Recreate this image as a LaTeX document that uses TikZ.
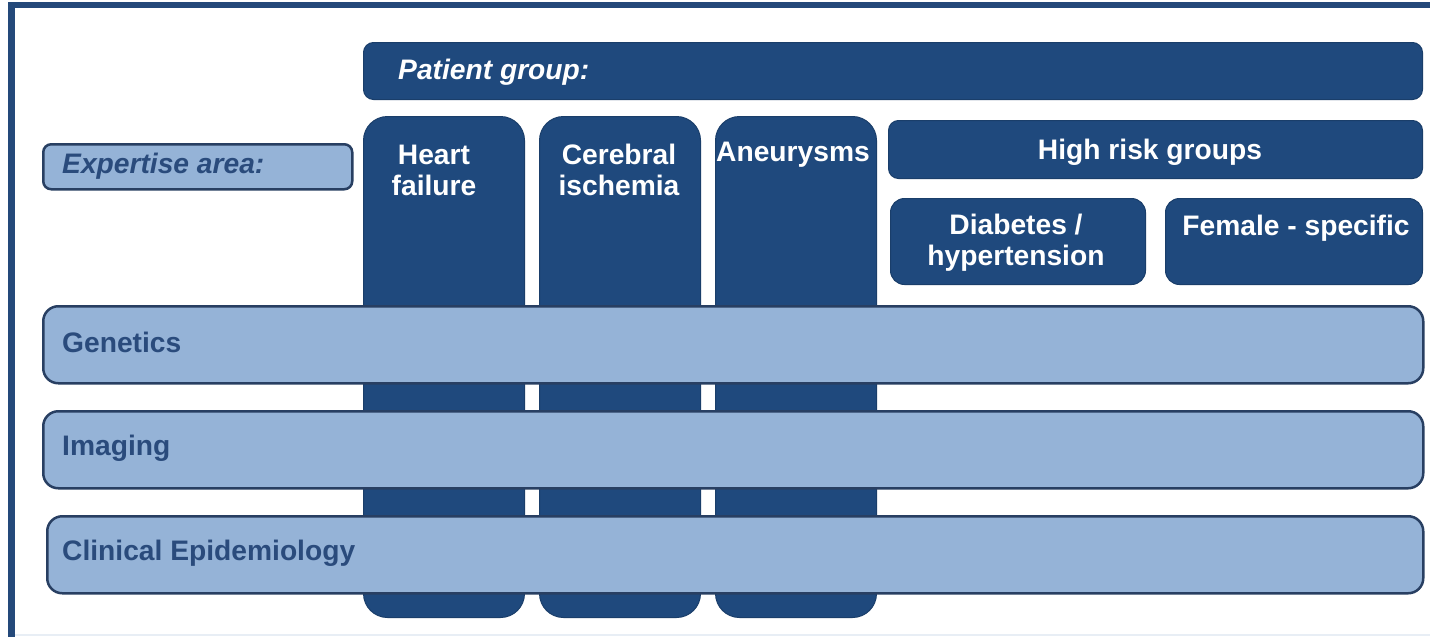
\documentclass[tikz,border=0pt]{standalone}
\usepackage{fontspec}
\setmainfont{Liberation Sans}
\definecolor{darkb}{HTML}{1F497D}
\definecolor{lightb}{HTML}{95B3D7}
\definecolor{edgeb}{HTML}{283F62}
\definecolor{txtb}{HTML}{2A4B7C}
\definecolor{frameb}{HTML}{24497A}
\definecolor{faint}{HTML}{E8EEF5}
\begin{document}
\begin{tikzpicture}[x=1pt,y=-1pt,
  darkbox/.style={fill=darkb, draw=darkb!85!black, line width=1pt, inner sep=0pt, anchor=north west},
  colbox/.style={darkbox, rounded corners=24pt, minimum width=161pt, minimum height=501pt},
  lightbox/.style={fill=lightb, draw=edgeb, line width=2.5pt, inner sep=0pt, anchor=north west},
  band/.style={lightbox, rounded corners=15pt, minimum height=77pt},
  wtxt/.style={font=\fontsize{28.2}{31}\selectfont\bfseries, text=white, align=center, inner sep=0pt},
  btxt/.style={font=\fontsize{28.2}{31}\selectfont\bfseries, text=txtb, inner sep=0pt, anchor=west},
]
\useasboundingbox (0,0) rectangle (1430,637);
\fill[white] (0,0) rectangle (1430,637);
% frame
\fill[frameb] (8,2) rectangle (1430,8);
\fill[frameb] (8,2) rectangle (15,637);
\fill[faint] (15,634) rectangle (1430,636);

% patient group header
\node[darkbox, rounded corners=10pt, minimum width=1059pt, minimum height=57pt] (pg) at (363,42) {};
\node[wtxt, anchor=west, font=\fontsize{28.2}{31}\selectfont\bfseries\itshape] (pgt) at (398,72) {Patient group:};

% columns
\node[colbox] (hf) at (363,116) {};
\node[colbox] (ci) at (539,116) {};
\node[colbox] (an) at (715,116) {};
\node[wtxt] (hft) at (434,170) {Heart\\failure};
\node[wtxt] (cit) at (619,170) {Cerebral\\ischemia};
\node[wtxt] (ant) at (793,155) {Aneurysms};

% high risk groups
\node[darkbox, rounded corners=10pt, minimum width=534pt, minimum height=58pt] (hr) at (888,120) {};
\node[wtxt] (hrt) at (1150,152) {High risk groups};
\node[darkbox, rounded corners=14pt, minimum width=255pt, minimum height=86pt] (db) at (890,198) {};
\node[wtxt] (dbt) at (1016,243) {Diabetes /\\hypertension};
\node[darkbox, rounded corners=14pt, minimum width=257pt, minimum height=86pt] (fs) at (1165,198) {};
\node[wtxt] (fst) at (1296,228) {Female - specific};

% expertise area
\node[lightbox, rounded corners=8pt, minimum width=309pt, minimum height=45pt] (ea) at (42,143) {};
\node[btxt, font=\fontsize{28.2}{31}\selectfont\bfseries\itshape] (eat) at (62,166) {Expertise area:};

% bands
\node[band, minimum width=1380pt] (ge) at (42,305) {};
\node[btxt] (get) at (62,342) {Genetics};
\node[band, minimum width=1380pt] (im) at (42,410) {};
\node[btxt] (imt) at (62,448) {Imaging};
\node[band, minimum width=1376pt] (ce) at (46,515) {};
\node[btxt] (cet) at (62,553) {Clinical Epidemiology};
\end{tikzpicture}
\end{document}
